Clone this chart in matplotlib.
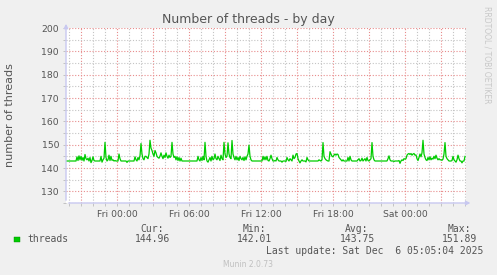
import matplotlib

matplotlib.use("Agg")
import matplotlib.dates as mdates  # noqa: E402
import matplotlib.patches as mpatches  # noqa: E402
import matplotlib.pyplot as plt  # noqa: E402
import pandas as pd  # noqa: E402
from matplotlib.ticker import FuncFormatter, MultipleLocator  # noqa: E402

# 5-minute samples, Thu 19:45 -> Sat 05:00
START = "2025-12-04 19:45"
THREADS = [
    143, 143, 143, 143, 143, 143, 143, 143, 143, 143, 143, 144.8, 143.2, 145.2, 143.5, 145, 143.3, 144.5, 143, 145.8,
    144, 143.5, 144.2, 143, 144.5, 142.3, 143.2, 144.8, 143.2, 143, 143, 143, 143, 143, 143, 145, 142.5, 143.5, 144.2, 151,
    144.5, 143, 143.5, 145.5, 143.2, 145, 143.3, 143.5, 143, 143.2, 143, 143, 143, 146, 144, 143, 143, 143, 143, 143,
    143, 142.4, 143, 143, 143, 143, 143, 143, 143, 144.8, 143.5, 143, 144.5, 143.5, 145.2, 150.5, 146, 144, 143.5, 145,
    145, 144.5, 144, 146, 151.9, 148.5, 147.5, 146, 145, 147.5, 146.5, 145, 144.5, 144.2, 145, 146.5, 145, 144, 145.5, 144.5,
    146.5, 145, 144.2, 145.5, 144.5, 145, 151, 146, 144.5, 145, 143.5, 144.8, 143.2, 144.5, 143, 144.2, 143, 143, 143, 143,
    143, 143, 143, 143, 143, 143, 143, 143, 143, 143, 143, 143, 145, 143.5, 143, 144.5, 143.2, 145, 143.5, 151,
    145, 143, 142.5, 143.5, 144.5, 143, 145, 143.5, 144, 146, 144, 143.5, 145, 144, 143.2, 145.5, 144, 143.5, 151, 146,
    144.5, 145, 150.8, 146, 144.5, 144, 151.8, 146, 144.5, 143.5, 145, 143.5, 144.5, 143.2, 145, 144, 143.5, 144.5, 143.2, 144.8,
    143.5, 145, 146, 149.8, 145, 143.5, 143, 143, 143, 143, 143, 143, 143, 143, 143, 143, 143, 145, 143.5, 144.8,
    143.5, 145, 143.2, 143, 144, 145.5, 144, 143, 143, 143.2, 143, 144.5, 143.5, 143, 143, 143, 142.5, 143, 143, 143,
    142.8, 144.5, 143.5, 143, 144, 143.5, 143, 145.5, 144, 144.5, 146, 146.2, 144, 143, 142.2, 143, 143.5, 143, 143, 143,
    142.6, 144.5, 143.5, 143, 143, 143, 143, 143, 143, 143, 143, 143, 143, 143.5, 143.2, 143, 143.5, 150.9, 145, 144,
    143.5, 143.2, 143, 143, 147, 146, 145, 144.8, 145.5, 146, 145.5, 146, 145.8, 144.5, 144, 143.5, 143, 143.5, 143, 143,
    143, 143, 144.5, 143, 145, 143.5, 143, 143, 143, 143, 143, 143, 143.5, 144, 143, 143.2, 144.2, 143, 143.5, 144,
    143, 144.5, 143.2, 143, 143.5, 144, 150.9, 145, 143.5, 143, 143, 143, 143, 143, 143, 143, 143, 143, 143, 143,
    143, 143, 144, 145.2, 143.5, 143, 143, 143, 142.8, 143, 143, 143, 143, 143.2, 142.01, 143, 143.5, 143.2, 144, 143.8,
    144, 145.5, 146, 146.2, 145.8, 146.2, 145.5, 146, 146.2, 145.5, 145.6, 144, 143.2, 144.5, 146, 144.8, 146.5, 151.89, 146, 144.5,
    143.5, 143.2, 144.5, 143.5, 144.8, 143.5, 144.2, 143.8, 145, 144, 145.5, 144.2, 143.5, 144, 143.5, 143.5, 143.3, 143.8, 146, 150.9,
    145, 144, 143.5, 143, 143, 143, 143.2, 145, 143.5, 143, 142.5, 143.5, 145.5, 144, 143, 143, 142.2, 143, 143, 144.96,
]
STAT_NAMES = ["Cur:", "Min:", "Avg:", "Max:"]
STAT_VALUES = [144.96, 142.01, 143.75, 151.89]

W, H = 497, 275
BG = "#f0f0f0"
TXT = "#555555"
LINE = "#00cc00"
MAJOR = "#e88c8c"
MINOR = "#c4c4c4"
AXIS = "#c8c8f0"


def px(x, y):
    return x / W, 1 - y / H


def main():
    times = pd.date_range(START, periods=len(THREADS), freq="5min")
    fig = plt.figure(figsize=(W / 100, H / 100), dpi=100, facecolor=BG)
    ax = fig.add_axes([66 / W, 1 - 203 / H, 400 / W, 175 / H])
    ax.set_facecolor("white")

    ax.plot(times, THREADS, color=LINE, lw=0.9, zorder=3)

    ax.set_xlim(times[0], times[-1] + pd.Timedelta("5min"))
    ax.set_ylim(125, 200)

    ax.xaxis.set_major_locator(mdates.HourLocator(byhour=range(0, 24, 3)))
    ax.xaxis.set_minor_locator(mdates.HourLocator())

    def xlabel(v, _pos):
        d = mdates.num2date(v)
        return d.strftime("%a %H:%M") if d.hour % 6 == 0 else ""

    ax.xaxis.set_major_formatter(FuncFormatter(xlabel))
    ax.yaxis.set_major_locator(MultipleLocator(10))
    ax.yaxis.set_minor_locator(MultipleLocator(5))

    ax.grid(which="major", color=MAJOR, lw=0.8, ls=(0, (1, 1.6)), zorder=1)
    ax.grid(which="minor", color=MINOR, lw=0.8, ls=(0, (1, 1.6)), zorder=1)
    for s in ax.spines.values():
        s.set_visible(False)
    ax.tick_params(which="both", length=2, width=0.6, color="#bbbbbb",
                   labelsize=6.7, labelcolor=TXT, pad=3)

    # axis lines with arrow heads
    arrow = dict(arrowstyle="-|>", color=AXIS, lw=1.0, mutation_scale=6)
    ax.annotate("", xy=(0, 1.04), xytext=(0, 0), xycoords="axes fraction",
                arrowprops=arrow, annotation_clip=False, zorder=4)
    ax.annotate("", xy=(1.018, 0), xytext=(0, 0), xycoords="axes fraction",
                arrowprops=arrow, annotation_clip=False, zorder=4)

    fig.text(*px(248, 19), "Number of threads - by day", ha="center", va="center",
             fontsize=9, color=TXT)
    fig.text(*px(10, 115), "number of threads", ha="center", va="center",
             rotation=90, fontsize=8, color=TXT)
    fig.text(*px(487, 55), "RRDTOOL / TOBI OETIKER", ha="center", va="center",
             rotation=270, fontsize=5.5, color="#c8c8c8")

    mono = dict(family="DejaVu Sans Mono", fontsize=7, color=TXT, va="center")
    fig.add_artist(mpatches.Rectangle(px(14, 242), 5.5 / W, 5.5 / H, transform=fig.transFigure,
                                      facecolor=LINE, edgecolor="#008800", lw=0.3))
    fig.text(*px(27, 239.5), "threads", ha="left", **mono)
    for i, (name, val) in enumerate(zip(STAT_NAMES, STAT_VALUES)):
        right = 170 + i * 102.5
        fig.text(*px(right - 6.5, 228.5), name, ha="right", **mono)
        fig.text(*px(right, 239.5), f"{val:.2f}", ha="right", **mono)
    fig.text(*px(483, 251), "Last update: Sat Dec  6 05:05:04 2025", ha="right", **mono)
    fig.text(*px(248, 264.5), "Munin 2.0.73", ha="center", va="center",
             fontsize=5.5, color="#c0c0c0")

    fig.savefig("out.png", dpi=100, facecolor=BG)


if __name__ == "__main__":
    main()
